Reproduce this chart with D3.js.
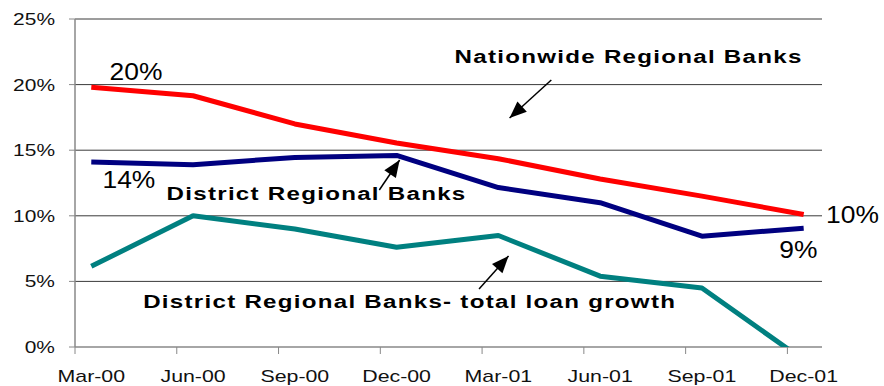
<!DOCTYPE html>
<html>
<head>
<meta charset="utf-8">
<script src="https://cdn.jsdelivr.net/npm/d3@7"></script>
<style>
  body { margin: 0; background: #fff; }
  svg text { font-family: "Liberation Sans", Arial, sans-serif; }
</style>
</head>
<body>
<div id="chart"></div>
<script>
// quarters on the axis
const quarters = ['Mar-00','Jun-00','Sep-00','Dec-00','Mar-01','Jun-01','Sep-01','Dec-01']
const yTicks = [0, 5, 10, 15, 20, 25]

// growth rates, percent
const nationwide = [19.8, 19.15, 17.0, 15.55, 14.35, 12.8, 11.5, 10.1]
const district = [14.1, 13.9, 14.45, 14.6, 12.15, 11.0, 8.45, 9.05]
const districtLoans = [6.15, 10.0, 9.0, 7.6, 8.5, 5.4, 4.5, -1.0]

// points and labels sit a little past each quarter tick
const pointOffset = 0.16

// text and arrows, in (quarter index, percent) units
const notes = [
  {text:'Nationwide Regional Banks', x:3.73, y:21.65, bold:true},
  {text:'District Regional Banks', x:0.9, y:11.2, bold:true},
  {text:'District Regional Banks- total loan growth', x:0.67, y:2.97, bold:true},
  {text:'20%', x:0.34, y:20.35},
  {text:'14%', x:0.27, y:12.1},
  {text:'10%', x:7.38, y:9.45},
  {text:'9%', x:6.92, y:6.78}
]
const arrows = [
  {from:[4.68, 20.35], to:[4.27, 17.45]},
  {from:[2.99, 11.97], to:[3.19, 14.25]},
  {from:[3.97, 4.42], to:[4.26, 6.94]}
]

const width = 884, height = 386
const margin = {top:19, right:62, bottom:39, left:75}

const svg = d3.select('#chart').append('svg')
  .attr('width', width)
  .attr('height', height)

const x = d3.scaleLinear()
  .domain([0, 7.34])
  .range([margin.left, width - margin.right])
const y = d3.scaleLinear()
  .domain([0, 25])
  .range([height - margin.bottom, margin.top])

const sx = 1.27 // the original type is drawn wide

// grid lines
svg.append('g').selectAll('line')
  .data(yTicks.filter(d => d > 0))
  .enter().append('line')
  .attr('x1', x(0)).attr('x2', x.range()[1])
  .attr('y1', d => y(d)).attr('y2', d => y(d))
  .attr('stroke', '#3a3a3a')
  .attr('stroke-width', 1)

// y axis
const yAxis = svg.append('g')
svg.append('line')
  .attr('x1', x(0)).attr('x2', x(0))
  .attr('y1', y(0)).attr('y2', y(25))
  .attr('stroke', '#888').attr('stroke-width', 1.5)
yAxis.selectAll('line')
  .data(yTicks).enter().append('line')
  .attr('x1', x(0) - 6).attr('x2', x(0))
  .attr('y1', d => y(d)).attr('y2', d => y(d))
  .attr('stroke', '#888').attr('stroke-width', 1)
yAxis.selectAll('text')
  .data(yTicks).enter().append('text')
  .attr('transform', d => `translate(55,${y(d) + 6}) scale(${sx},1)`)
  .attr('text-anchor', 'end')
  .attr('font-size', 16.5)
  .attr('fill', '#111')
  .text(d => d + '%')

// x axis
const xAxis = svg.append('g')
xAxis.append('line')
  .attr('x1', x(0)).attr('x2', x.range()[1])
  .attr('y1', y(0)).attr('y2', y(0))
  .attr('stroke', '#888').attr('stroke-width', 1.5)
xAxis.selectAll('line.tick')
  .data(quarters).enter().append('line')
  .attr('class', 'tick')
  .attr('x1', (d, i) => x(i)).attr('x2', (d, i) => x(i))
  .attr('y1', y(0)).attr('y2', y(0) + 7)
  .attr('stroke', '#888').attr('stroke-width', 1)
xAxis.selectAll('text')
  .data(quarters).enter().append('text')
  .attr('transform', (d, i) => `translate(${x(i + pointOffset)},382) scale(${sx},1)`)
  .attr('text-anchor', 'middle')
  .attr('font-size', 16.8)
  .attr('fill', '#111')
  .text(d => d)

// lines, clipped to the plot so the loan line stops at 0%
svg.append('clipPath').attr('id', 'plot')
  .append('rect')
  .attr('x', x(0)).attr('y', y(25))
  .attr('width', x.range()[1] - x(0))
  .attr('height', y(0) - y(25))

const line = d3.line()
  .x((d, i) => x(i + pointOffset))
  .y(d => y(d))

const series = [
  {values: districtLoans, color: '#008080'},
  {values: district, color: '#000080'},
  {values: nationwide, color: '#ff0000'}
]
svg.append('g').attr('clip-path', 'url(#plot)')
  .selectAll('path')
  .data(series).enter().append('path')
  .attr('d', d => line(d.values))
  .attr('fill', 'none')
  .attr('stroke', d => d.color)
  .attr('stroke-width', 5)
  .attr('stroke-linejoin', 'bevel')

// notes
svg.append('g').selectAll('text')
  .data(notes).enter().append('text')
  .attr('transform', d => `translate(${x(d.x)},${y(d.y)}) scale(${d.bold ? sx : 1.1},1)`)
  .attr('font-size', d => d.bold ? 19 : 24)
  .attr('font-weight', d => d.bold ? 'bold' : 'normal')
  .attr('letter-spacing', d => d.bold ? 1 : 0)
  .attr('fill', '#000')
  .text(d => d.text)

// arrows
const head = 17, half = 7
const ag = svg.append('g').selectAll('g')
  .data(arrows).enter().append('g')
ag.append('line')
  .attr('x1', d => x(d.from[0])).attr('y1', d => y(d.from[1]))
  .attr('x2', d => x(d.to[0])).attr('y2', d => y(d.to[1]))
  .attr('stroke', '#000').attr('stroke-width', 1.5)
ag.append('path')
  .attr('fill', '#000')
  .attr('d', d => {
    const x1 = x(d.from[0]), y1 = y(d.from[1])
    const x2 = x(d.to[0]), y2 = y(d.to[1])
    const len = Math.hypot(x2 - x1, y2 - y1)
    const ux = (x2 - x1) / len, uy = (y2 - y1) / len
    const bx = x2 - ux * head, by = y2 - uy * head
    return `M${x2},${y2}L${bx - uy * half},${by + ux * half}L${bx + uy * half},${by - ux * half}Z`
  })
</script>
</body>
</html>
